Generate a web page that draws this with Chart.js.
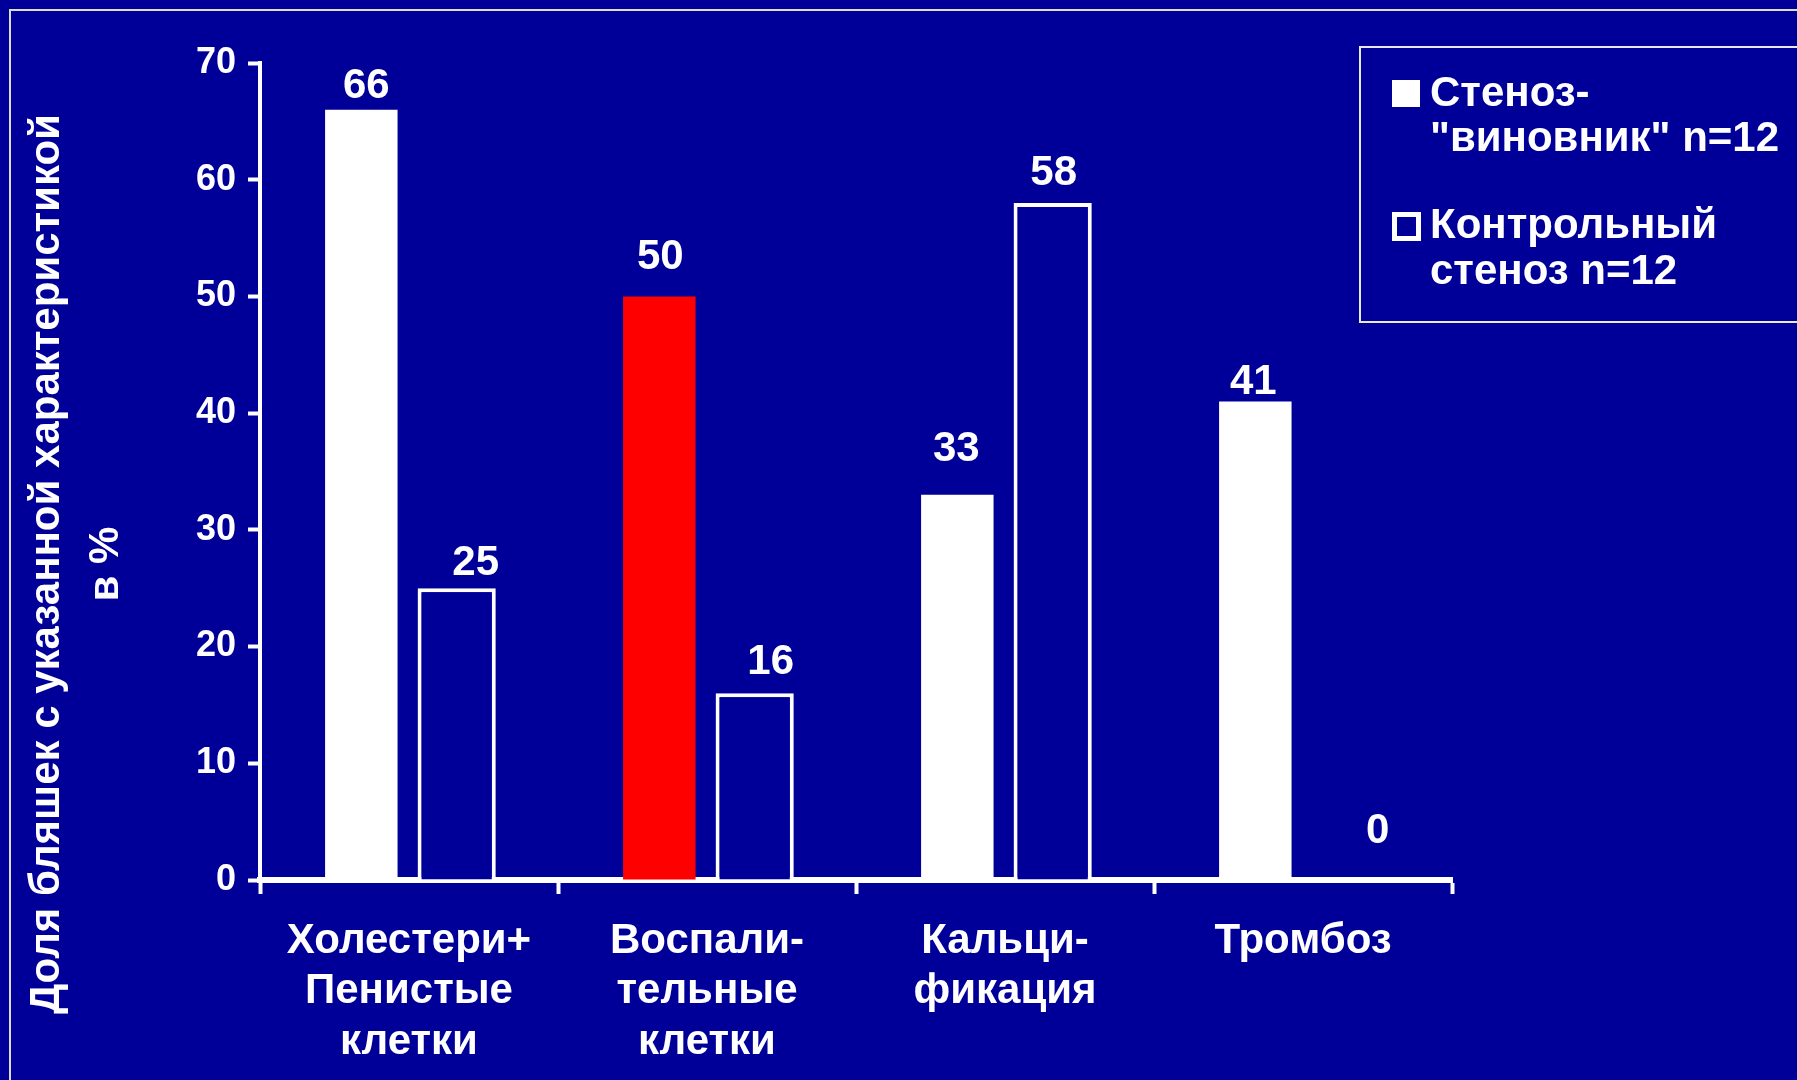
<!DOCTYPE html>
<html lang="ru">
<head>
<meta charset="UTF-8">
<title>Доля бляшек с указанной характеристикой</title>
<script src="https://cdn.jsdelivr.net/npm/chart.js"></script>
<style>
  html, body { margin: 0; padding: 0; background: #000099; overflow: hidden; }
  #chart { display: block; }
</style>
</head>
<body>
<canvas id="chart" width="1797" height="1080"></canvas>
<script>
// Categories (multi-line labels under the axis)
const categories = [
  ['Холестери+', 'Пенистые', 'клетки'],
  ['Воспали-', 'тельные', 'клетки'],
  ['Кальци-', 'фикация'],
  ['Тромбоз']
];
const culpritValues = [66, 50, 33, 41];   // Стеноз-"виновник"
const controlValues = [25, 16, 58, 0];    // Контрольный стеноз
const yTicks = [0, 10, 20, 30, 40, 50, 60, 70];
const legendLabels = [['Стеноз-', '"виновник" n=12'], ['Контрольный', 'стеноз n=12']];
const yTitle = ['Доля бляшек с указанной характеристикой', 'в %'];

const BG = '#000099';
const FONT = '"Liberation Sans", Arial, sans-serif';
const culpritColors = ['#ffffff', '#ff0000', '#ffffff', '#ffffff'];

// hand-placed value labels: [dx, distance above bar top]
const labelNudge = [
  [[5, 23], [1, 39], [-1, 45], [-2, 19]],
  [[19, 25], [16, 31], [1, 30], [27, 49]]
];

const slideDecor = {
  id: 'slideDecor',
  beforeDraw(chart) {
    const ctx = chart.ctx;
    ctx.save();
    ctx.strokeStyle = '#dcdcdc';
    ctx.lineWidth = 2;
    ctx.beginPath();
    ctx.moveTo(10, chart.height);
    ctx.lineTo(10, 10);
    ctx.lineTo(chart.width, 10);
    ctx.stroke();
    ctx.restore();
  },
  afterDraw(chart) {
    const ctx = chart.ctx;
    ctx.save();
    ctx.fillStyle = '#fff';

    // value labels
    ctx.font = 'bold 42px ' + FONT;
    ctx.textAlign = 'center';
    ctx.textBaseline = 'middle';
    chart.data.datasets.forEach((ds, di) => {
      chart.getDatasetMeta(di).data.forEach((bar, i) => {
        const [dx, dy] = labelNudge[di][i];
        ctx.fillText(String(ds.data[i]), bar.x + dx, bar.y - dy);
      });
    });

    // rotated y-axis title
    ctx.font = 'bold 42px ' + FONT;
    yTitle.forEach((line, i) => {
      ctx.save();
      ctx.translate(47 + i * 59, 564);
      ctx.rotate(-Math.PI / 2);
      ctx.fillText(line, 0, 0);
      ctx.restore();
    });

    // legend box
    ctx.strokeStyle = '#e8e8e8';
    ctx.lineWidth = 2;
    ctx.strokeRect(1360, 47, 440, 275);
    ctx.fillRect(1392, 80, 28, 27);
    ctx.strokeStyle = '#fff';
    ctx.lineWidth = 5;
    ctx.strokeRect(1394.5, 214.5, 24, 24);
    ctx.font = 'bold 42px ' + FONT;
    ctx.textAlign = 'left';
    const lineY = [[94, 139], [226, 272]];
    legendLabels.forEach((lines, i) => {
      lines.forEach((t, j) => ctx.fillText(t, 1430, lineY[i][j]));
    });
    ctx.restore();
  }
};

new Chart(document.getElementById('chart'), {
  type: 'bar',
  data: {
    labels: categories,
    datasets: [
      {
        label: 'Стеноз-"виновник" n=12',
        data: culpritValues,
        backgroundColor: culpritColors,
        borderWidth: 0,
        barPercentage: 0.76
      },
      {
        label: 'Контрольный стеноз n=12',
        data: controlValues,
        backgroundColor: BG,
        borderColor: '#ffffff',
        borderWidth: 4,
        barPercentage: 0.82
      }
    ]
  },
  options: {
    responsive: false,
    animation: false,
    categoryPercentage: 0.64,
    layout: { padding: { top: 63, right: 345, left: 0, bottom: 0 } },
    plugins: { legend: { display: false }, tooltip: { enabled: false } },
    scales: {
      x: {
        z: 1,
        grid: { drawOnChartArea: false, drawTicks: true, tickLength: 14, tickWidth: 4, color: '#fff', offset: true },
        border: { display: true, color: '#fff', width: 6 },
        ticks: {
          color: '#fff', padding: 22, maxRotation: 0, autoSkip: false,
          font: { family: FONT, size: 42, weight: 'bold', lineHeight: 1.2 }
        },
        afterFit(scale) { scale.height = 200; }
      },
      y: {
        min: 0, max: 70,
        afterBuildTicks(scale) { scale.ticks = yTicks.map(v => ({ value: v })); },
        grid: { drawOnChartArea: false, tickLength: 12, tickWidth: 4, color: '#fff' },
        border: { color: '#fff', width: 4 },
        ticks: {
          color: '#fff', padding: 12,
          font: { family: FONT, size: 36, weight: 'bold' }
        },
        afterFit(scale) { scale.width = 260; }
      }
    }
  },
  plugins: [slideDecor]
});
</script>
</body>
</html>
